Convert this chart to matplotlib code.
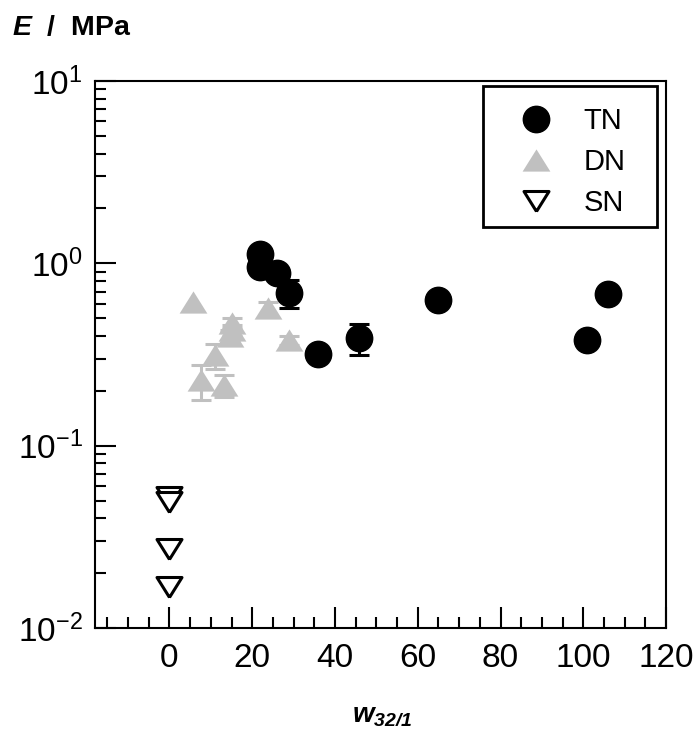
import numpy as np
import matplotlib
matplotlib.use("Agg")
import matplotlib.pyplot as plt
from matplotlib.patches import Rectangle
from matplotlib.ticker import MultipleLocator, LogLocator, LogFormatterMathtext, NullFormatter

plt.rcParams['font.family'] = ['Liberation Sans', 'DejaVu Sans']
plt.rcParams['mathtext.fontset'] = 'custom'
plt.rcParams['mathtext.rm'] = 'Liberation Sans'
plt.rcParams['mathtext.it'] = 'Liberation Sans:italic'
plt.rcParams['mathtext.bf'] = 'Liberation Sans:italic:bold'
plt.rcParams['mathtext.default'] = 'regular'

# TN series
tn_x = [21.8, 21.8, 25.9, 28.8, 35.8, 45.7, 64.8, 100.9, 106.0]
tn_y = [1.13, 0.95, 0.88, 0.69, 0.32, 0.39, 0.63, 0.38, 0.68]
tn_err = [0.0, 0.0, 0.0, 0.12, 0.0, 0.075, 0.0, 0.0, 0.0]

# DN series
dn_x = [5.8, 7.7, 10.9, 13.1, 15.0, 15.0, 14.7, 23.7, 29.0]
dn_y = [0.61, 0.228, 0.313, 0.214, 0.47, 0.43, 0.40, 0.567, 0.378]
dn_err = [0.0, 0.05, 0.05, 0.03, 0.03, 0.03, 0.03, 0.05, 0.02]

# SN series
sn_x = [0.0, 0.0, 0.0, 0.0]
sn_y = [0.052, 0.049, 0.027, 0.0167]

gray = '#c0c0c0'
tri_up = [(0, 0.8), (-1, -0.8), (1, -0.8), (0, 0.8)]
tri_dn = [(0, -0.8), (-1, 0.8), (1, 0.8), (0, -0.8)]


def with_err(x, y, e):
    keep = [i for i in range(len(x)) if e[i] > 0]
    return [x[i] for i in keep], [y[i] for i in keep], [e[i] for i in keep]


fig = plt.figure(figsize=(6.95, 7.35), dpi=100)
ax = fig.add_axes([0.1367, 0.1456, 0.8216, 0.7442])

ex, ey, ee = with_err(dn_x, dn_y, dn_err)
ax.errorbar(ex, ey, yerr=ee, fmt='none', ecolor=gray, elinewidth=2.2,
            capsize=7.5, capthick=2.2, zorder=2)
ax.plot(dn_x, dn_y, linestyle='none', marker=tri_up, markersize=20,
        color=gray, markeredgewidth=0, label='DN', zorder=3)

ex, ey, ee = with_err(tn_x, tn_y, tn_err)
ax.errorbar(ex, ey, yerr=ee, fmt='none', ecolor='black', elinewidth=2.2,
            capsize=7.5, capthick=2.2, zorder=4)
ax.plot(tn_x, tn_y, linestyle='none', marker='o', markersize=19,
        color='black', label='TN', zorder=5)

ax.plot(sn_x, sn_y, linestyle='none', marker=tri_dn, markersize=18,
        markerfacecolor='white', markeredgecolor='black', markeredgewidth=2.2,
        label='SN', zorder=6)

ax.set_yscale('log')
ax.set_xlim(-18, 120)
ax.set_ylim(1e-2, 1e1)

ax.xaxis.set_major_locator(MultipleLocator(20))
ax.xaxis.set_minor_locator(MultipleLocator(5))
ax.yaxis.set_major_locator(LogLocator(base=10))
ax.yaxis.set_minor_locator(LogLocator(base=10, subs=np.arange(2, 10)))
ax.yaxis.set_major_formatter(LogFormatterMathtext())
ax.yaxis.set_minor_formatter(NullFormatter())

ax.tick_params(which='both', direction='in', top=False, right=False, width=1.5,
               labelsize=24)
ax.tick_params(which='major', length=15)
ax.tick_params(which='minor', length=8)
ax.tick_params(axis='x', pad=11)
ax.tick_params(axis='y', pad=9)
for s in ax.spines.values():
    s.set_linewidth(1.5)

handles, labels = ax.get_legend_handles_labels()
order = [labels.index(l) for l in ['TN', 'DN', 'SN']]
leg = ax.legend([handles[i] for i in order], [labels[i] for i in order],
                loc='upper left', bbox_to_anchor=(507 / 695, 1 - 107 / 735),
                bbox_transform=fig.transFigure, fontsize=21, frameon=False,
                borderpad=0, handlelength=2.0, handletextpad=0.62,
                labelspacing=0.45, borderaxespad=0)
fig.patches.append(Rectangle((483 / 695, 1 - 227 / 735), 174 / 695, 141 / 735,
                             transform=fig.transFigure, fill=False,
                             edgecolor='black', linewidth=2, zorder=10))

fig.text(12 / 695, 1 - 35 / 735, r'$\mathbf{E}$  /  MPa', fontsize=20.5,
         fontweight='bold', va='baseline', ha='left')
fig.text(382 / 695, 1 - 715 / 735, r'$\mathbf{w}_{\mathbf{32/1}}$', fontsize=20,
         va='center', ha='center')

fig.savefig('out.png', dpi=100)
